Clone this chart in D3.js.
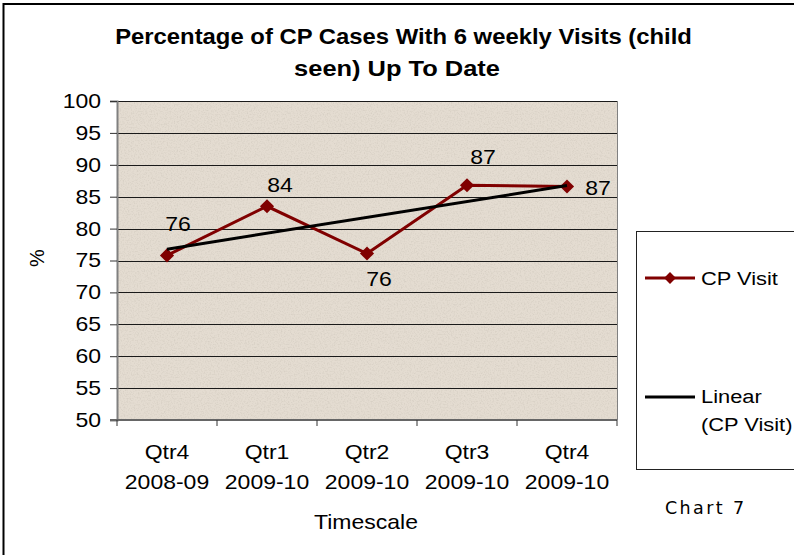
<!DOCTYPE html>
<html><head><meta charset="utf-8">
<script src="https://cdn.jsdelivr.net/npm/d3@7"></script>
<style>body{margin:0;background:#fff}svg{display:block}</style>
</head><body>
<script>
const categories = [["Qtr4","2008-09"],["Qtr1","2009-10"],["Qtr2","2009-10"],["Qtr3","2009-10"],["Qtr4","2009-10"]];
const cpVisit = [75.8, 83.5, 76.1, 86.8, 86.6];
const dataLabels = ["76","84","76","87","87"];
const yTicks = [50,55,60,65,70,75,80,85,90,95,100];
const titleLines = ["Percentage of CP Cases With 6 weekly Visits (child","seen) Up To Date"];

const W = 794, H = 555;
const SX = 1.15;
const svg = d3.select("body").append("svg").attr("width", W).attr("height", H);
const defs = svg.append("defs");
const f = defs.append("filter").attr("id","tex").attr("x",0).attr("y",0).attr("width","100%").attr("height","100%");
f.append("feTurbulence").attr("type","fractalNoise").attr("baseFrequency",0.7).attr("numOctaves",2).attr("seed",3).attr("result","n");
f.append("feColorMatrix").attr("in","n").attr("type","matrix")
 .attr("values","0 0 0 0 0.62  0 0 0 0 0.57  0 0 0 0 0.50  0 0 0 -2.6 1.45").attr("result","c");
f.append("feComposite").attr("in","c").attr("in2","SourceGraphic").attr("operator","in");

// outer border
svg.append("rect").attr("x",3.5).attr("y",4).attr("width",W).attr("height",H).attr("fill","none").attr("stroke","#000").attr("stroke-width",2);

const m = {l:117, r:617, t:101, b:420};
const x = d3.scaleBand().domain(d3.range(categories.length)).range([m.l, m.r]);
const y = d3.scaleLinear().domain([50,100]).range([m.b, m.t]);
const font = "'Liberation Sans', Arial, sans-serif";

function stext(parent, px, py, str, size, anchor, sx) {
  const g = parent.append("g").attr("transform",`translate(${px},${py}) scale(${sx||SX},1)`);
  return g.append("text").attr("x",0).attr("y",0).attr("font-family",font).attr("font-size",size)
    .attr("text-anchor",anchor||"middle").text(str);
}

// plot bg
svg.append("rect").attr("x",m.l).attr("y",m.t).attr("width",m.r-m.l).attr("height",m.b-m.t).attr("fill","#e4dcd1");
svg.append("rect").attr("x",m.l).attr("y",m.t).attr("width",m.r-m.l).attr("height",m.b-m.t).attr("fill","#fff").attr("filter","url(#tex)").attr("opacity",0.55);

// grid
svg.append("g").selectAll("line").data(yTicks.filter(v=>v>50)).join("line")
  .attr("x1",m.l).attr("x2",m.r).attr("y1",d=>Math.round(y(d))+0.5).attr("y2",d=>Math.round(y(d))+0.5)
  .attr("stroke","#1a1a1a").attr("stroke-width",1);
svg.append("line").attr("x1",m.r+0.5).attr("x2",m.r+0.5).attr("y1",m.t).attr("y2",m.b).attr("stroke","#808080").attr("stroke-width",1);

// y axis
const ya = svg.append("g").attr("transform",`translate(${m.l},0)`)
  .call(d3.axisLeft(y).tickValues(yTicks).tickSize(7).tickPadding(9));
ya.select(".domain").attr("stroke","#808080").attr("stroke-width",2);
ya.selectAll(".tick line").attr("stroke","#333");
ya.selectAll("text").attr("font-family",font).attr("font-size",20).attr("fill","#000").attr("transform",`scale(${SX},1)`).attr("x",-16/SX);

// x axis
const xa = svg.append("g").attr("transform",`translate(0,${m.b})`);
xa.append("line").attr("x1",m.l-7).attr("x2",m.r).attr("y1",0).attr("y2",0).attr("stroke","#666").attr("stroke-width",2);
const bounds = d3.range(categories.length+1).map(i=> i<categories.length ? x(i) : m.r);
xa.selectAll("line.tk").data(bounds).join("line").attr("class","tk")
  .attr("x1",d=>d).attr("x2",d=>d).attr("y1",0).attr("y2",6).attr("stroke","#333");
const xl = xa.selectAll("text.xl").data(categories).join("text").attr("class","xl")
  .attr("font-family",font).attr("font-size",20).attr("text-anchor","middle")
  .attr("transform",(d,i)=>`translate(${x(i)+x.bandwidth()/2},0) scale(${SX},1)`);
xl.append("tspan").attr("x",0).attr("y",39).text(d=>d[0]);
xl.append("tspan").attr("x",0).attr("y",69).text(d=>d[1]);

// axis titles
stext(svg, (m.l+m.r)/2 - 1, 529, "Timescale", 20);
svg.append("text").attr("transform","translate(44,258) rotate(-90)").attr("text-anchor","middle")
  .attr("font-family",font).attr("font-size",20).text("%");

// title, each line fitted to its width in the original
const titlePos = [{cx:403.5, y:44, w:577},{cx:397, y:76, w:206}];
titleLines.forEach((t,i)=>{
  const g = svg.append("g");
  const tx = g.append("text").attr("font-family",font).attr("font-weight","bold").attr("font-size",22)
    .attr("text-anchor","middle").text(t);
  const len = tx.node().getComputedTextLength();
  g.attr("transform",`translate(${titlePos[i].cx},${titlePos[i].y}) scale(${titlePos[i].w/len},1)`);
});

// trend line (least-squares from data)
const n = cpVisit.length, xs = d3.range(n);
const mx = d3.mean(xs), my = d3.mean(cpVisit);
const slope = d3.sum(xs,(xi,i)=>(xi-mx)*(cpVisit[i]-my))/d3.sum(xs,xi=>(xi-mx)**2);
const icpt = my - slope*mx;
const cx = i => x(i)+x.bandwidth()/2;

const line = d3.line().x((d,i)=>cx(i)).y(d=>y(d));
svg.append("path").datum(cpVisit).attr("d",line).attr("fill","none").attr("stroke","#800000").attr("stroke-width",3).attr("stroke-linejoin","miter");
svg.append("g").selectAll("path").data(cpVisit).join("path")
  .attr("d",d3.symbol().type(d3.symbolSquare).size(100))
  .attr("transform",(d,i)=>`translate(${cx(i)},${y(d)}) rotate(45)`).attr("fill","#800000");
svg.append("line").attr("x1",cx(0)).attr("y1",y(icpt)).attr("x2",cx(n-1)).attr("y2",y(icpt+slope*(n-1)))
  .attr("stroke","#000").attr("stroke-width",3);

// data labels
const lblOff = [[11,-31],[13,-21],[12,26],[16,-28],[31,2]];
cpVisit.forEach((d,i)=>{
  stext(svg, cx(i)+lblOff[i][0], y(d)+lblOff[i][1]+7, dataLabels[i], 20);
});

// legend
const lg = svg.append("g");
lg.append("rect").attr("x",636.5).attr("y",231.5).attr("width",200).attr("height",238).attr("fill","#fff").attr("stroke","#222").attr("stroke-width",1);
lg.append("line").attr("x1",645).attr("x2",695).attr("y1",278).attr("y2",278).attr("stroke","#800000").attr("stroke-width",3);
lg.append("path").attr("d",d3.symbol().type(d3.symbolSquare).size(70)).attr("transform","translate(670,278) rotate(45)").attr("fill","#800000");
stext(lg, 701, 285, "CP Visit", 19, "start");
lg.append("line").attr("x1",645).attr("x2",695).attr("y1",397).attr("y2",397).attr("stroke","#000").attr("stroke-width",3);
stext(lg, 701, 403, "Linear", 19, "start");
stext(lg, 701, 431, "(CP Visit)", 19, "start");

svg.append("text").attr("x",665).attr("y",514).attr("font-family","'DejaVu Sans', Verdana, sans-serif").attr("font-size",17.5).attr("letter-spacing",2.4).text("Chart 7");
</script>
</body></html>
